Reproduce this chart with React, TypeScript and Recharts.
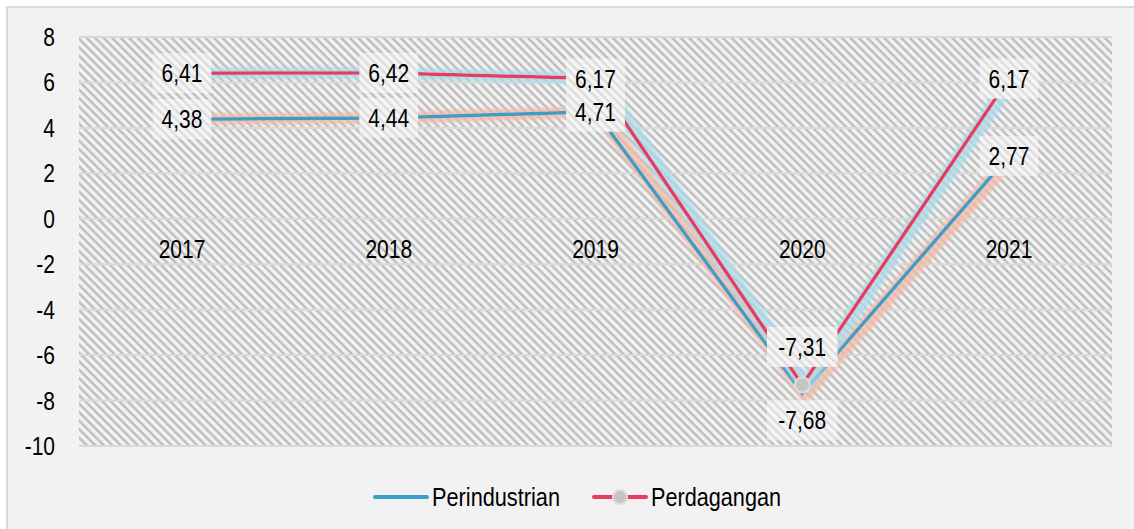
import React from 'react';
import { LineChart, Line, XAxis, YAxis, CartesianGrid, Legend, LabelList } from 'recharts';

const years = ['2017', '2018', '2019', '2020', '2021'];
const perindustrian = [4.38, 4.44, 4.71, -7.68, 2.77];
const perdagangan = [6.41, 6.42, 6.17, -7.31, 6.17];
const yTicks = [-10, -8, -6, -4, -2, 0, 2, 4, 6, 8];

const data = years.map((year, i) => ({
  year,
  perindustrian: perindustrian[i],
  perdagangan: perdagangan[i],
  base: 0,
}));

const FONT = '"Liberation Sans", Arial, sans-serif';
const BLUE = '#3a9ec6';
const RED = '#e93a62';
const SX = 0.84; // squeeze to mimic a narrow face

const fmt = (v: number) => v.toFixed(2).replace('.', ',');

// narrow text: scale horizontally around the anchor x
const Narrow = ({ x, y, anchor, size = 25, children }: any) => (
  <text
    x={x}
    y={y}
    textAnchor={anchor}
    fontFamily={FONT}
    fontSize={size}
    fill="#000"
    transform={`matrix(${SX} 0 0 1 ${x * (1 - SX)} 0)`}
  >
    {children}
  </text>
);

// value box centred on the point; at 2020 the two boxes are pushed apart
const valueLabel = (shift2020: number) => (props: any) => {
  const { x, y, value, index } = props;
  const cy = y + (index === 3 ? shift2020 : 0);
  const txt = fmt(value);
  const w = txt.length * 11.7 + 12;
  return (
    <g>
      <rect x={x - w / 2} y={cy - 20} width={w} height={40} fill="url(#hatchLight)" />
      <Narrow x={x} y={cy + 9} anchor="middle">{txt}</Narrow>
    </g>
  );
};

const yearLabel = (props: any) => {
  const { x, y, index } = props;
  return <Narrow x={x} y={y + 39} anchor="middle">{years[index]}</Narrow>;
};

const YTick = (props: any) => {
  const { x, y, payload } = props;
  return <Narrow x={x} y={y + 9} anchor="end">{payload.value}</Narrow>;
};

const redDot = (props: any) => {
  const { cx, cy, index } = props;
  if (index !== 3) return <g key={index} />;
  return <circle key={index} cx={cx} cy={cy} r={7.5} fill="#c4c4c4" stroke="#dedede" strokeWidth={2} />;
};

const legendContent = () => (
  <svg width={1126} height={72} style={{ display: 'block' }}>
    <line x1={367} y1={51} x2={419} y2={51} stroke={BLUE} strokeWidth={4} strokeLinecap="round" />
    <text x={424} y={60} fontFamily={FONT} fontSize={26} fill="#000" textLength={128} lengthAdjust="spacingAndGlyphs">
      Perindustrian
    </text>
    <line x1={586} y1={51} x2={638} y2={51} stroke={RED} strokeWidth={4} strokeLinecap="round" />
    <circle cx={612} cy={51} r={7} fill="#c4c4c4" stroke="#dedede" strokeWidth={2} />
    <text x={643} y={60} fontFamily={FONT} fontSize={26} fill="#000" textLength={130} lengthAdjust="spacingAndGlyphs">
      Perdagangan
    </text>
  </svg>
);

const glowFilter = (id: string, color: string) => (
  <filter id={id} filterUnits="userSpaceOnUse" x={0} y={0} width={1200} height={600}>
    <feMorphology in="SourceAlpha" operator="dilate" radius={4} result="d" />
    <feGaussianBlur in="d" stdDeviation={1.5} result="b" />
    <feOffset in="b" dx={3} dy={0} result="o" />
    <feFlood floodColor={color} floodOpacity={0.75} />
    <feComposite in2="o" operator="in" result="s" />
    <feMerge>
      <feMergeNode in="s" />
      <feMergeNode in="SourceGraphic" />
    </feMerge>
  </filter>
);

export default function App() {
  return (
    <div style={{ position: 'absolute', left: 6, top: 6, width: 1150, height: 545, border: '2px solid #d9d9d9', background: '#f2f2f2' }}>
      <LineChart width={1126} height={510} data={data} margin={{ top: 29, right: 22, bottom: 0, left: 0 }}>
        <defs>
          <pattern id="hatch" patternUnits="userSpaceOnUse" width={6} height={6} patternTransform="rotate(45)">
            <rect width={6} height={6} fill="#f2f2f2" />
            <line x1={0} y1={1.5} x2={6} y2={1.5} stroke="#b6b6b6" strokeWidth={2.2} />
          </pattern>
          <pattern id="hatchLight" patternUnits="userSpaceOnUse" width={6} height={6} patternTransform="rotate(45)">
            <rect width={6} height={6} fill="#f6f6f6" />
            <line x1={0} y1={1.5} x2={6} y2={1.5} stroke="#dadada" strokeWidth={2.2} />
          </pattern>
          {glowFilter('glowCyan', '#a6dbea')}
          {glowFilter('glowSalmon', '#f1b9a7')}
        </defs>
        <CartesianGrid vertical={false} stroke="#d9d9d9" strokeWidth={2} fill="url(#hatch)" fillOpacity={1} />
        <XAxis dataKey="year" hide padding={{ left: 103, right: 103 }} />
        <YAxis
          domain={[-10, 8]}
          ticks={yTicks}
          width={71}
          axisLine={false}
          tickLine={false}
          tickSize={0}
          tickMargin={24}
          interval={0}
          tick={<YTick />}
        />
        <Legend verticalAlign="bottom" content={legendContent} />
        <Line dataKey="base" stroke="none" dot={false} activeDot={false} legendType="none" isAnimationActive={false}>
          <LabelList dataKey="base" content={yearLabel} />
        </Line>
        <Line
          dataKey="perindustrian"
          name="Perindustrian"
          stroke={BLUE}
          strokeWidth={3.5}
          dot={false}
          activeDot={false}
          filter="url(#glowSalmon)"
          isAnimationActive={false}
        />
        <Line
          dataKey="perdagangan"
          name="Perdagangan"
          stroke={RED}
          strokeWidth={3.5}
          dot={redDot}
          activeDot={false}
          filter="url(#glowCyan)"
          isAnimationActive={false}
        />
        <Line dataKey="perindustrian" stroke="none" dot={false} activeDot={false} legendType="none" isAnimationActive={false}>
          <LabelList dataKey="perindustrian" content={valueLabel(27)} />
        </Line>
        <Line dataKey="perdagangan" stroke="none" dot={false} activeDot={false} legendType="none" isAnimationActive={false}>
          <LabelList dataKey="perdagangan" content={valueLabel(-38)} />
        </Line>
      </LineChart>
    </div>
  );
}
